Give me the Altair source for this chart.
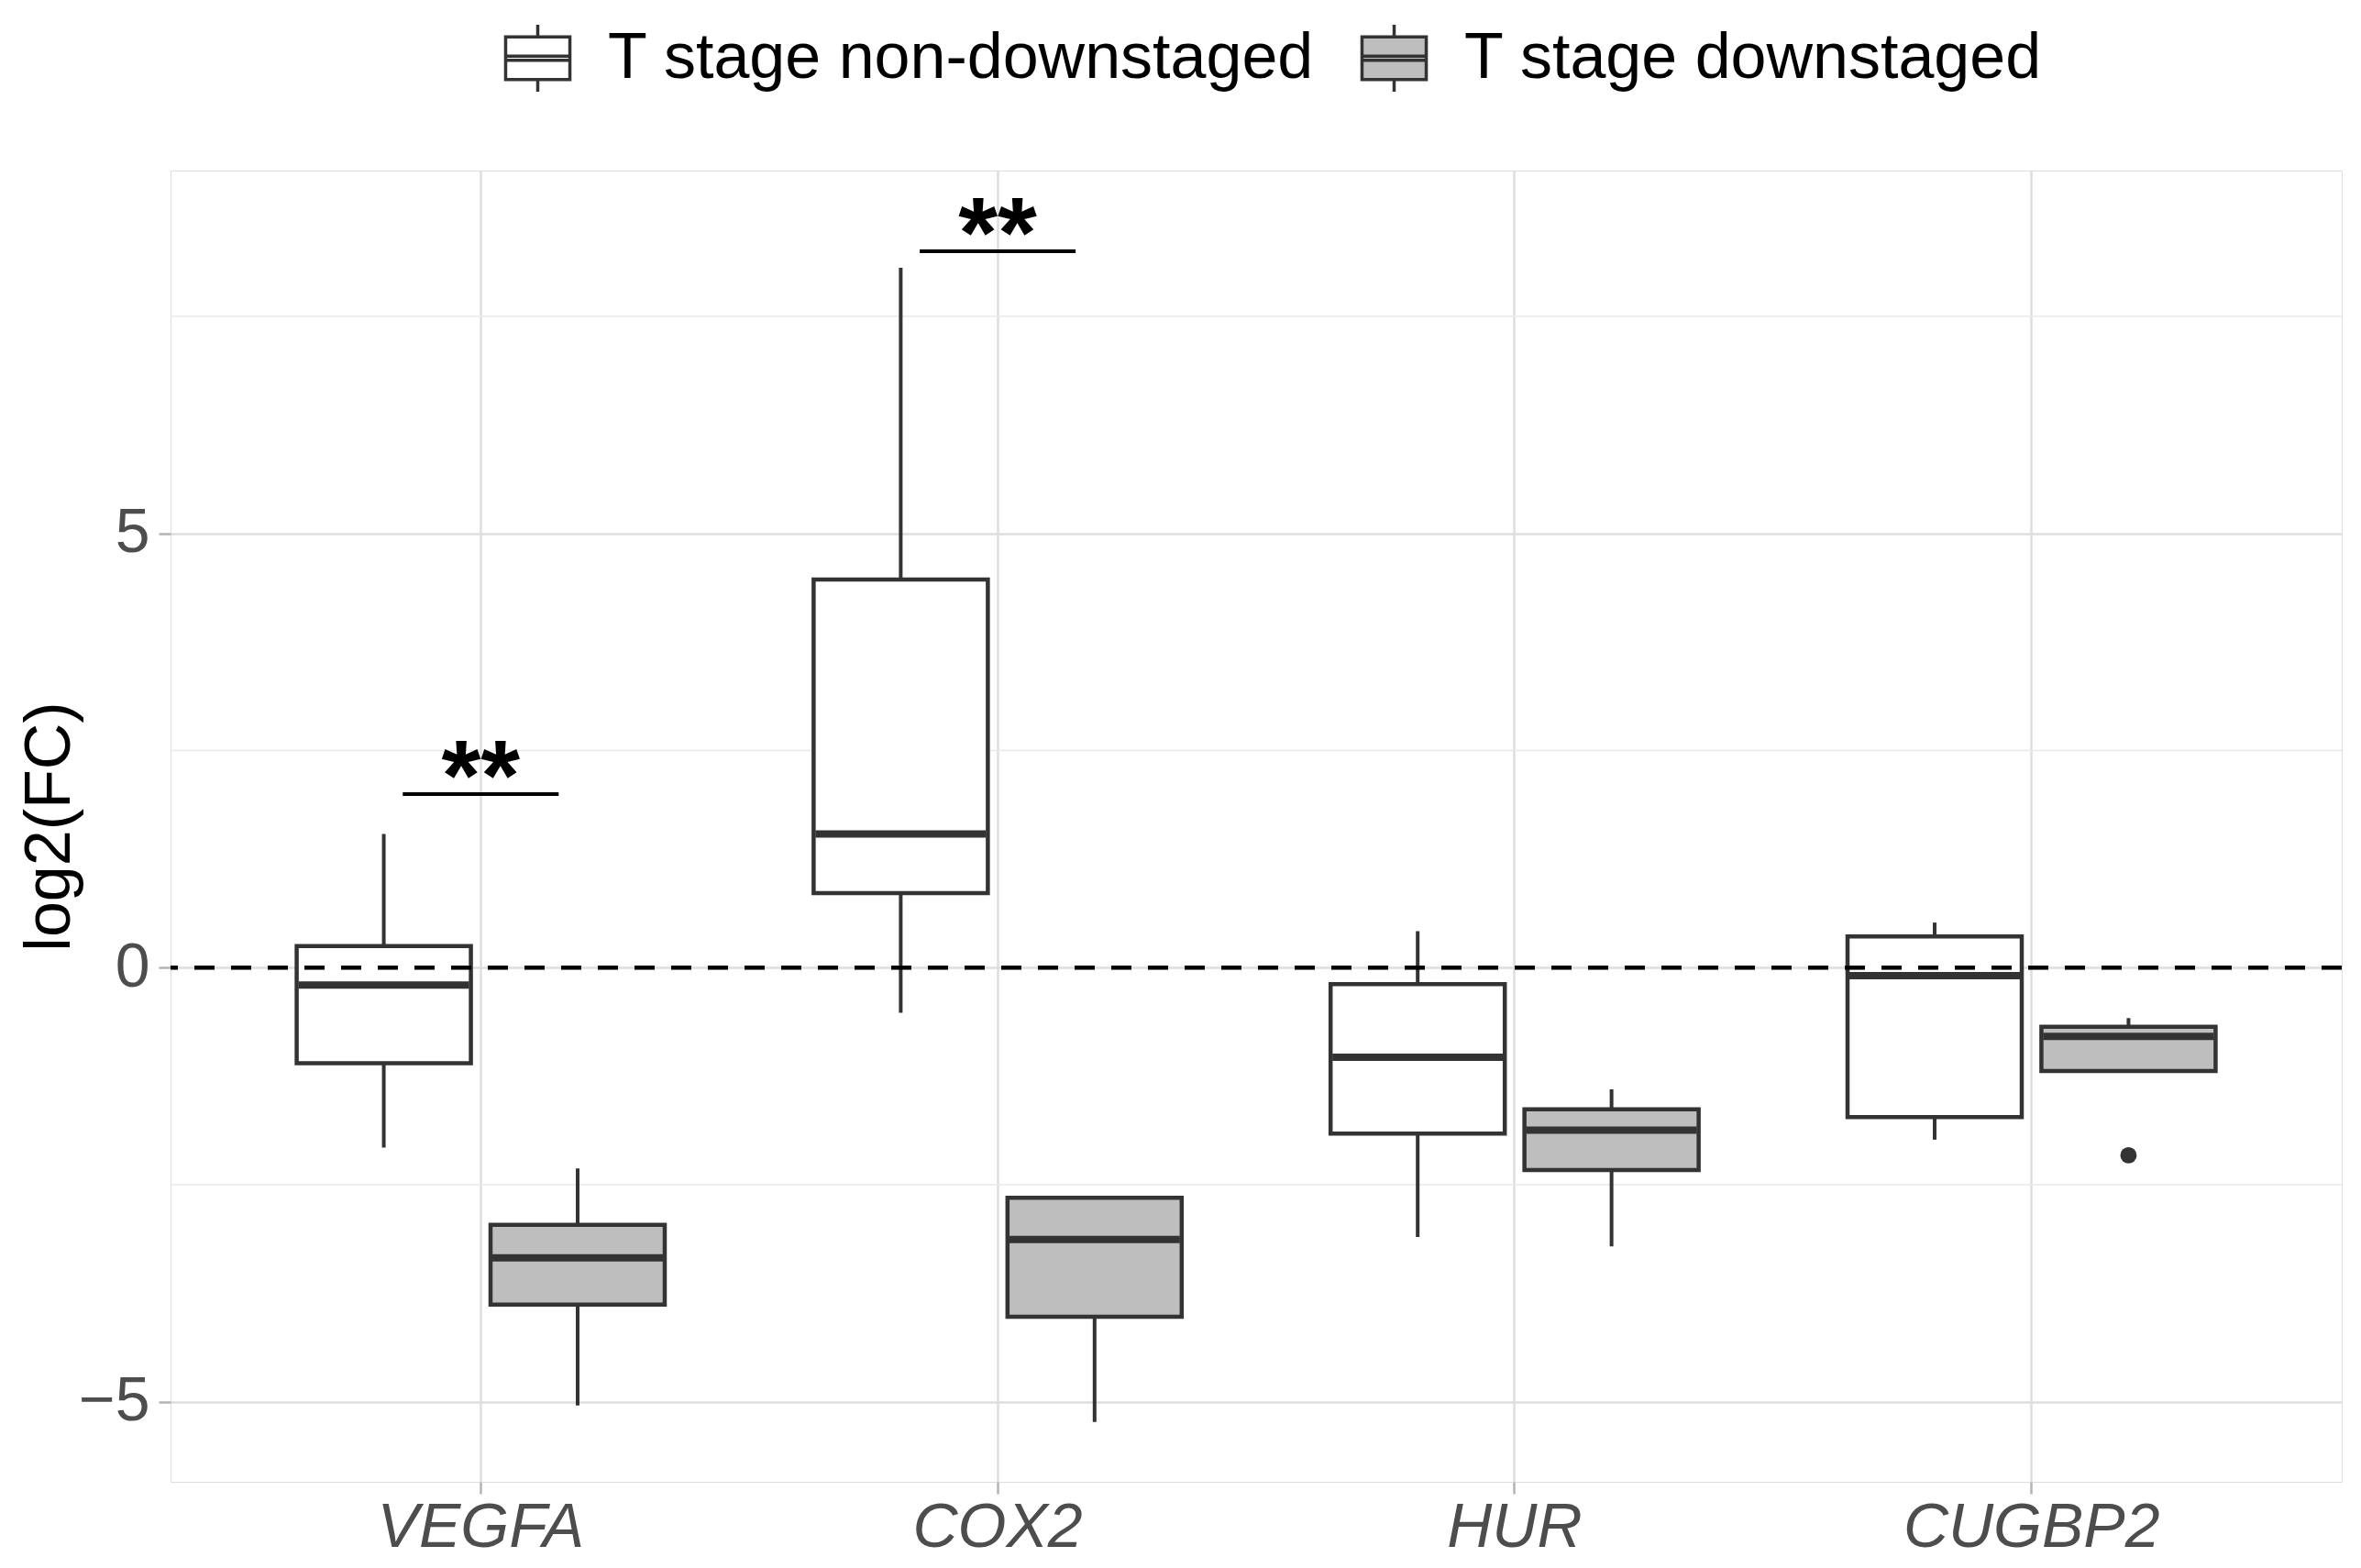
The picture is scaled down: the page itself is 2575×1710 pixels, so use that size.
import altair as alt
import pandas as pd

genes = ["VEGFA", "COX2", "HUR", "CUGBP2"]
groups = ["T stage non-downstaged", "T stage downstaged"]

non_low = [-2.07, -0.52, -3.10, -1.98]
non_q1 = [-1.10, 0.86, -1.91, -1.72]
non_med = [-0.20, 1.54, -1.03, -0.09]
non_q3 = [0.25, 4.47, -0.19, 0.36]
non_high = [1.54, 8.06, 0.42, 0.52]

down_low = [-5.04, -5.23, -3.21, -1.19]
down_q1 = [-3.88, -4.02, -2.33, -1.19]
down_med = [-3.34, -3.13, -1.87, -0.79]
down_q3 = [-2.96, -2.65, -1.63, -0.68]
down_high = [-2.31, -2.65, -1.40, -0.58]

outlier_gene = ["CUGBP2"]
outlier_group = ["T stage downstaged"]
outlier_val = [-2.16]

sig_gene = ["VEGFA", "COX2"]
sig_y = [2.0, 8.25]
sig_label = ["**", "**"]

minor_breaks = [-2.5, 2.5, 7.5]

rows = []
for i, g in enumerate(genes):
    rows.append(dict(gene=g, group=groups[0], low=non_low[i], q1=non_q1[i],
                     med=non_med[i], q3=non_q3[i], high=non_high[i]))
    rows.append(dict(gene=g, group=groups[1], low=down_low[i], q1=down_q1[i],
                     med=down_med[i], q3=down_q3[i], high=down_high[i]))
df = pd.DataFrame(rows)
df_out = pd.DataFrame(dict(gene=outlier_gene, group=outlier_group, val=outlier_val))
df_sig = pd.DataFrame(dict(gene=sig_gene, y=sig_y, label=sig_label))
df_minor = pd.DataFrame(dict(y=minor_breaks))

FONT = "Liberation Sans"
W, H = 2368, 1430
BOXW = 190
DARK = "#333333"

xscale = alt.Scale(domain=genes, paddingInner=0, paddingOuter=0.1)
oscale = alt.Scale(domain=groups, paddingInner=0, paddingOuter=1/3)
yscale = alt.Scale(domain=[-5.92, 9.18], nice=False, zero=False)

xenc = alt.X("gene:N", scale=xscale, sort=genes,
             axis=alt.Axis(title=None, bandPosition=0.5, labelFontStyle="italic",
                           labelFontSize=68, labelColor="#4D4D4D", labelFont=FONT,
                           tickSize=13, tickColor="#B3B3B3", tickWidth=2.5,
                           labelPadding=3, domain=False, labelAngle=0, labelLimit=1000,
                           grid=True, gridColor="#DEDEDE", gridWidth=2.5))
yenc = alt.Y("low:Q", scale=yscale,
             axis=alt.Axis(title="log2(FC)", values=[-5, 0, 5], labelFontSize=68,
                           labelExpr="datum.value < 0 ? '\u2212' + abs(datum.value) : '' + datum.value",
                           labelColor="#4D4D4D", labelFont=FONT, titleFont=FONT,
                           titleFontSize=70, titleFontWeight="normal", titleColor="black",
                           tickSize=13, tickColor="#B3B3B3", tickWidth=2.5,
                           labelPadding=10, domain=False, titleX=-132,
                           titleBaseline="middle",
                           grid=True, gridColor="#DEDEDE", gridWidth=2.5))
oenc = alt.XOffset("group:N", scale=oscale, sort=groups)

base = alt.Chart(df)

minor = alt.Chart(df_minor).mark_rule(color="#E8E8E8", strokeWidth=1.5).encode(
    y=alt.Y("y:Q", scale=yscale))

whisk = base.mark_rule(color=DARK, strokeWidth=4).encode(
    x=xenc, xOffset=oenc, y=yenc, y2="high:Q")

legend_path = ("M-0.96,-0.64H0.96V0.64H-0.96Z "
               "M-0.96,-0.06H0.96V0.06H-0.96Z "
               "M0,-0.64V-1 M0,0.64V1")

boxes = base.mark_bar(size=BOXW, stroke=DARK, strokeWidth=4.5).encode(
    x=xenc, xOffset=oenc,
    y=alt.Y("q1:Q", scale=yscale),
    y2="q3:Q",
    fill=alt.Fill("group:N", scale=alt.Scale(domain=groups, range=["#FFFFFF", "#BEBEBE"]),
                  legend=alt.Legend(title=None, orient="none", direction="horizontal",
                                    legendX=362, legendY=-161, padding=0,
                                    symbolType=legend_path, symbolSize=5329,
                                    symbolStrokeColor=DARK, symbolStrokeWidth=3.5,
                                    labelFont=FONT, labelFontSize=70, labelColor="black",
                                    labelOffset=38, columnPadding=44, labelLimit=2000)))

meds = base.mark_tick(size=BOXW - 4, thickness=8, color=DARK, opacity=1).encode(
    x=xenc, xOffset=oenc, y=alt.Y("med:Q", scale=yscale))

outs = alt.Chart(df_out).mark_point(filled=True, size=320, color=DARK, opacity=1).encode(
    x=alt.X("gene:N", scale=xscale, sort=genes),
    xOffset=alt.XOffset("group:N", scale=oscale, sort=groups),
    y=alt.Y("val:Q", scale=yscale))

hline = alt.Chart(df_minor).mark_rule(color="black", strokeWidth=4, strokeDash=[22, 18]).encode(
    y=alt.datum(0, scale=yscale))

sigline = alt.Chart(df_sig).mark_tick(size=170, thickness=4, color="black", opacity=1).encode(
    x=alt.X("gene:N", scale=xscale, sort=genes), y=alt.Y("y:Q", scale=yscale))

sigtext = alt.Chart(df_sig).mark_text(font=FONT, fontSize=110, fontWeight="bold",
                                      color="black", baseline="alphabetic", dy=17).encode(
    x=alt.X("gene:N", scale=xscale, sort=genes), y=alt.Y("y:Q", scale=yscale),
    text="label:N")

chart = alt.layer(minor, whisk, boxes, meds, outs, hline, sigline, sigtext).properties(
    width=W, height=H,
    autosize=alt.AutoSizeParams(type="none"),
    padding={"left": 178, "top": 178, "right": 13, "bottom": 90},
).configure_view(stroke="#B3B3B3", strokeWidth=2.5).configure(background="white")

chart.save("out.html", embed_options={"renderer": "svg", "actions": False})
